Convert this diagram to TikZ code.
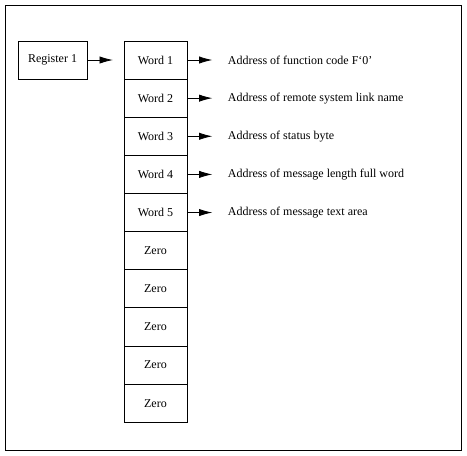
\documentclass[tikz,border=0pt]{standalone}
\usepackage{fontspec}
\setmainfont{Liberation Serif}
\usetikzlibrary{arrows.meta}

\begin{document}
\begin{tikzpicture}[x=1pt,y=1pt,>={Latex[length=10pt,width=5.5pt]},semithick,
                    node distance=28.6pt,font=\fontsize{9}{11}\selectfont]
   \tikzstyle{cell}=[draw=black,minimum width=47.25pt,minimum height=28.6pt,inner sep=0pt]
   \tikzstyle{reg}=[draw=black,minimum width=51.75pt,minimum height=28.5pt,inner sep=0pt]
   \tikzstyle{addr}=[anchor=west]

   \useasboundingbox (0,0) rectangle (350.25,-341.25);
   \draw (4.1,-3.75) rectangle (346.1,-337.5);

   \node[reg]  (R)  at (39.4,-45)  {Register 1};
   \node[cell] (W1) at (116.6,-45) {Word 1};
   \node[cell] (W2) [below of=W1]  {Word 2};
   \node[cell] (W3) [below of=W2]  {Word 3};
   \node[cell] (W4) [below of=W3]  {Word 4};
   \node[cell] (W5) [below of=W4]  {Word 5};
   \node[cell] (Z1) [below of=W5]  {Zero};
   \node[cell] (Z2) [below of=Z1]  {Zero};
   \node[cell] (Z3) [below of=Z2]  {Zero};
   \node[cell] (Z4) [below of=Z3]  {Zero};
   \node[cell] (Z5) [below of=Z4]  {Zero};

   \node[addr] (A1) at (167.25,0 |- W1) {Address of function code F‘0’};
   \node[addr] (A2) at (167.25,0 |- W2) {Address of remote system link name};
   \node[addr] (A3) at (167.25,0 |- W3) {Address of status byte};
   \node[addr] (A4) at (167.25,0 |- W4) {Address of message length full word};
   \node[addr] (A5) at (167.25,0 |- W5) {Address of message text area};

   \path[->,shorten >=8pt]
        (R)  edge (W1)
        (W1) edge (A1)
        (W2) edge (A2)
        (W3) edge (A3)
        (W4) edge (A4)
        (W5) edge (A5);
\end{tikzpicture}
\end{document}
